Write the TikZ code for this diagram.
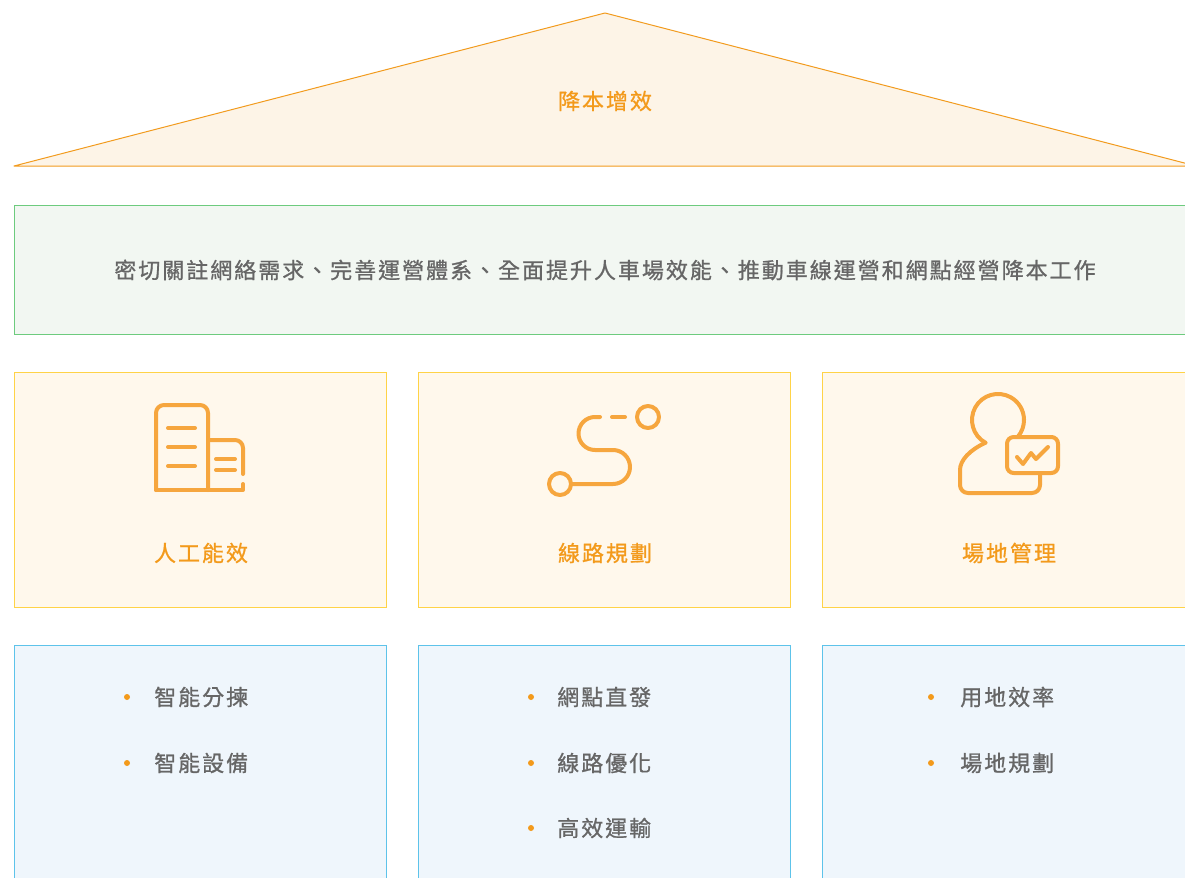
\documentclass[tikz,border=0pt]{standalone}
\usepackage{fontspec}
\setmainfont{Noto Sans CJK TC}[LetterSpace=9, FakeBold=0.9]
\usetikzlibrary{positioning}
\definecolor{roofline}{HTML}{F29B1E}
\definecolor{rooffill}{HTML}{FDF4E7}
\definecolor{goalline}{HTML}{6DCB7E}
\definecolor{goalfill}{HTML}{F2F7F2}
\definecolor{pillarline}{HTML}{FFD347}
\definecolor{pillarfill}{HTML}{FFF8EC}
\definecolor{itemline}{HTML}{5DC3EA}
\definecolor{itemfill}{HTML}{EFF6FC}
\definecolor{iconc}{HTML}{F6A63E}
\definecolor{labelc}{HTML}{F39A1B}
\definecolor{textc}{HTML}{666666}
\tikzset{
  boxbase/.style={rectangle, anchor=north west, inner sep=0pt, line width=0.75pt},
  goalbox/.style={boxbase, draw=goalline, fill=goalfill, minimum width=900pt, minimum height=96.75pt},
  pillar/.style={boxbase, draw=pillarline, fill=pillarfill, minimum width=279pt, minimum height=176.25pt},
  itembox/.style={boxbase, draw=itemline, fill=itemfill, minimum width=279pt, minimum height=200pt},
  headtext/.style={text=labelc, font=\fontsize{16.5}{20}\selectfont},
  plaintext/.style={text=textc, font=\fontsize{16.5}{20}\selectfont},
  itemtext/.style={plaintext, anchor=west, inner sep=0pt},
  dot/.style={circle, fill=labelc, inner sep=0pt, minimum size=4.5pt},
  icon/.style={draw=iconc, line width=3pt, line cap=round, line join=round}
}
\begin{document}
\begin{tikzpicture}[x=0.75pt, y=-0.75pt]
  \useasboundingbox (0,0) rectangle (1185,878);
  \clip (0,0) rectangle (1185,878);

  % roof
  \draw[draw=roofline, fill=rooffill, line width=0.75pt, line join=round] (14,166) -- (605,13) -- (1196,166) -- cycle;
  \node[headtext] (roofname) at (605,101) {降本增效};

  % goal
  \node[goalbox] (goal) at (14,205) {};
  \node[plaintext] (goaltext) at (605,270) {密切關註網絡需求、完善運營體系、全面提升人車場效能、推動車線運營和網點經營降本工作};

  % pillars
  \node[pillar] (work) at (14,372) {};
  \node[pillar] (route) at (418,372) {};
  \node[pillar] (site) at (822,372) {};
  \node[headtext] (workname) at (201,553) {人工能效};
  \node[headtext] (routename) at (605,553) {線路規劃};
  \node[headtext] (sitename) at (1009,553) {場地管理};

  % icons
  \draw[icon, rounded corners=6pt] (156,490) -- (156,405) -- (208,405) -- (208,490);
  \draw[icon, rounded corners=6pt] (208,440) -- (243,440) -- (243,474);
  \draw[icon] (156,490) -- (243,490) -- (243,484);
  \draw[icon] (168,428) -- (195,428);
  \draw[icon] (168,447) -- (195,447);
  \draw[icon] (168,466) -- (195,466);
  \draw[icon] (216,459) -- (235,459);
  \draw[icon] (216,470) -- (235,470);

  \draw[icon] (560,484) circle[radius=11];
  \draw[icon] (648,417) circle[radius=11];
  \draw[icon] (571,484) -- (613,484) arc[start angle=90, end angle=-90, radius=17]
    -- (595,450) arc[start angle=90, end angle=270, radius=16.5] -- (600,417);
  \draw[icon] (612,417) -- (625,417);

  \draw[icon] (985.4,442.7) arc[start angle=119, end angle=400, radius=26];
  \draw[icon, rounded corners=6pt] (985.4,442.7) .. controls (970,450) and (960,460) .. (960,478)
    -- (960,493) -- (1040,493) -- (1040,473);
  \draw[icon, rounded corners=5pt] (1007,437) rectangle (1058,473);
  \draw[icon] (1017,457) -- (1023,464) -- (1031,453) -- (1036,459) -- (1048,447);

  % items
  \node[itembox] (workitems) at (14,645) {};
  \node[itembox] (routeitems) at (418,645) {};
  \node[itembox] (siteitems) at (822,645) {};

  \node[dot] (d1) at (127,697) {};
  \node[itemtext] (w1) at (154,697) {智能分揀};
  \node[dot] (d2) at (127,763) {};
  \node[itemtext] (w2) at (154,763) {智能設備};

  \node[dot] (d3) at (531,697) {};
  \node[itemtext] (r1) at (557,697) {網點直發};
  \node[dot] (d4) at (531,763) {};
  \node[itemtext] (r2) at (557,763) {線路優化};
  \node[dot] (d5) at (531,828) {};
  \node[itemtext] (r3) at (557,828) {高效運輸};

  \node[dot] (d6) at (931,697) {};
  \node[itemtext] (s1) at (960,697) {用地效率};
  \node[dot] (d7) at (931,763) {};
  \node[itemtext] (s2) at (960,763) {場地規劃};
\end{tikzpicture}
\end{document}
